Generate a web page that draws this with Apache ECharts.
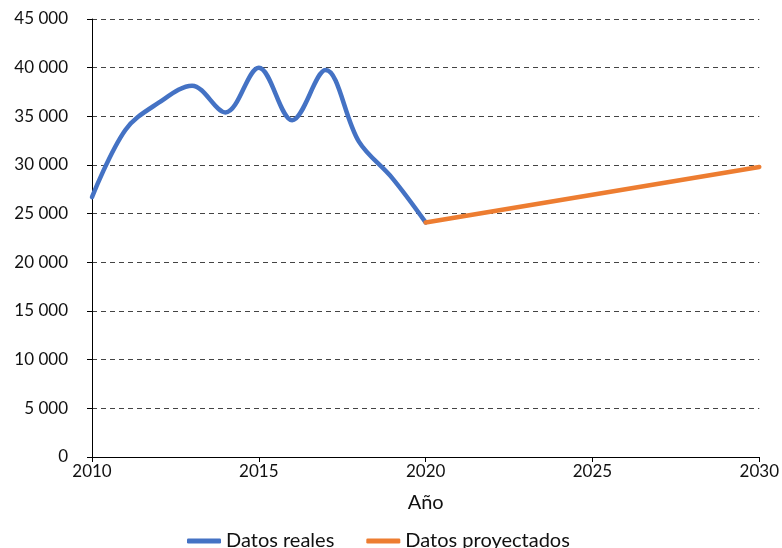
<!DOCTYPE html>
<html>
<head>
<meta charset="utf-8">
<script src="https://cdn.jsdelivr.net/npm/echarts@6/dist/echarts.min.js"></script>
<style>
  html, body { margin: 0; padding: 0; background: #fff; }
  #chart { width: 782px; height: 548px; }
</style>
</head>
<body>
<div id="chart"></div>
<script>
const years = [2010, 2011, 2012, 2013, 2014, 2015, 2016, 2017, 2018, 2019, 2020]
const realValues = [26700, 33600, 36400, 38150, 35400, 40000, 34600, 39750, 32400, 28650, 24100]
const projYears = [2020, 2030]
const projValues = [24100, 29800]

const FONT = 'Lato'
const myChart = echarts.init(document.getElementById('chart'))

const option = {
  animation: false,
  textStyle: { fontFamily: FONT, color: '#111' },
  grid: { left: 92, right: 22, top: 19, bottom: 91 },
  xAxis: {
    type: 'value',
    min: 2010,
    max: 2030,
    interval: 5,
    name: 'Año',
    nameLocation: 'middle',
    nameGap: 36,
    nameTextStyle: { fontSize: 20, color: '#111', fontFamily: FONT },
    axisLine: { show: true, lineStyle: { color: '#000', width: 1 } },
    axisTick: { show: true, length: 5, lineStyle: { color: '#000' } },
    splitLine: { show: false },
    axisLabel: {
      fontSize: 17,
      color: '#111',
      margin: 6,
      formatter: v => String(v)
    }
  },
  yAxis: {
    type: 'value',
    min: 0,
    max: 45000,
    interval: 5000,
    axisLine: { show: true, lineStyle: { color: '#000', width: 1 } },
    axisTick: { show: true, length: 5, lineStyle: { color: '#000' } },
    splitLine: {
      show: true,
      lineStyle: { type: [5, 4], color: '#444', width: 1 }
    },
    axisLabel: {
      fontSize: 17,
      color: '#111',
      margin: 24,
      formatter: v => v >= 1000 ? Math.floor(v / 1000) + ' ' + String(v % 1000).padStart(3, '0') : String(v)
    }
  },
  legend: {
    bottom: -8,
    left: 182,
    itemWidth: 34,
    itemHeight: 5,
    itemGap: 32,
    icon: 'roundRect',
    textStyle: { fontSize: 20, color: '#111', fontFamily: FONT },
    data: ['Datos reales', 'Datos proyectados']
  },
  series: [
    {
      name: 'Datos reales',
      type: 'line',
      smooth: 0.35,
      showSymbol: false,
      symbol: 'none',
      lineStyle: { color: '#4472C4', width: 4.5, cap: 'round' },
      itemStyle: { color: '#4472C4' },
      data: years.map((y, i) => [y, realValues[i]])
    },
    {
      name: 'Datos proyectados',
      type: 'line',
      showSymbol: false,
      symbol: 'none',
      lineStyle: { color: '#ED7D31', width: 4.5, cap: 'round' },
      itemStyle: { color: '#ED7D31' },
      data: projYears.map((y, i) => [y, projValues[i]])
    }
  ]
}

myChart.setOption(option)
</script>
</body>
</html>
